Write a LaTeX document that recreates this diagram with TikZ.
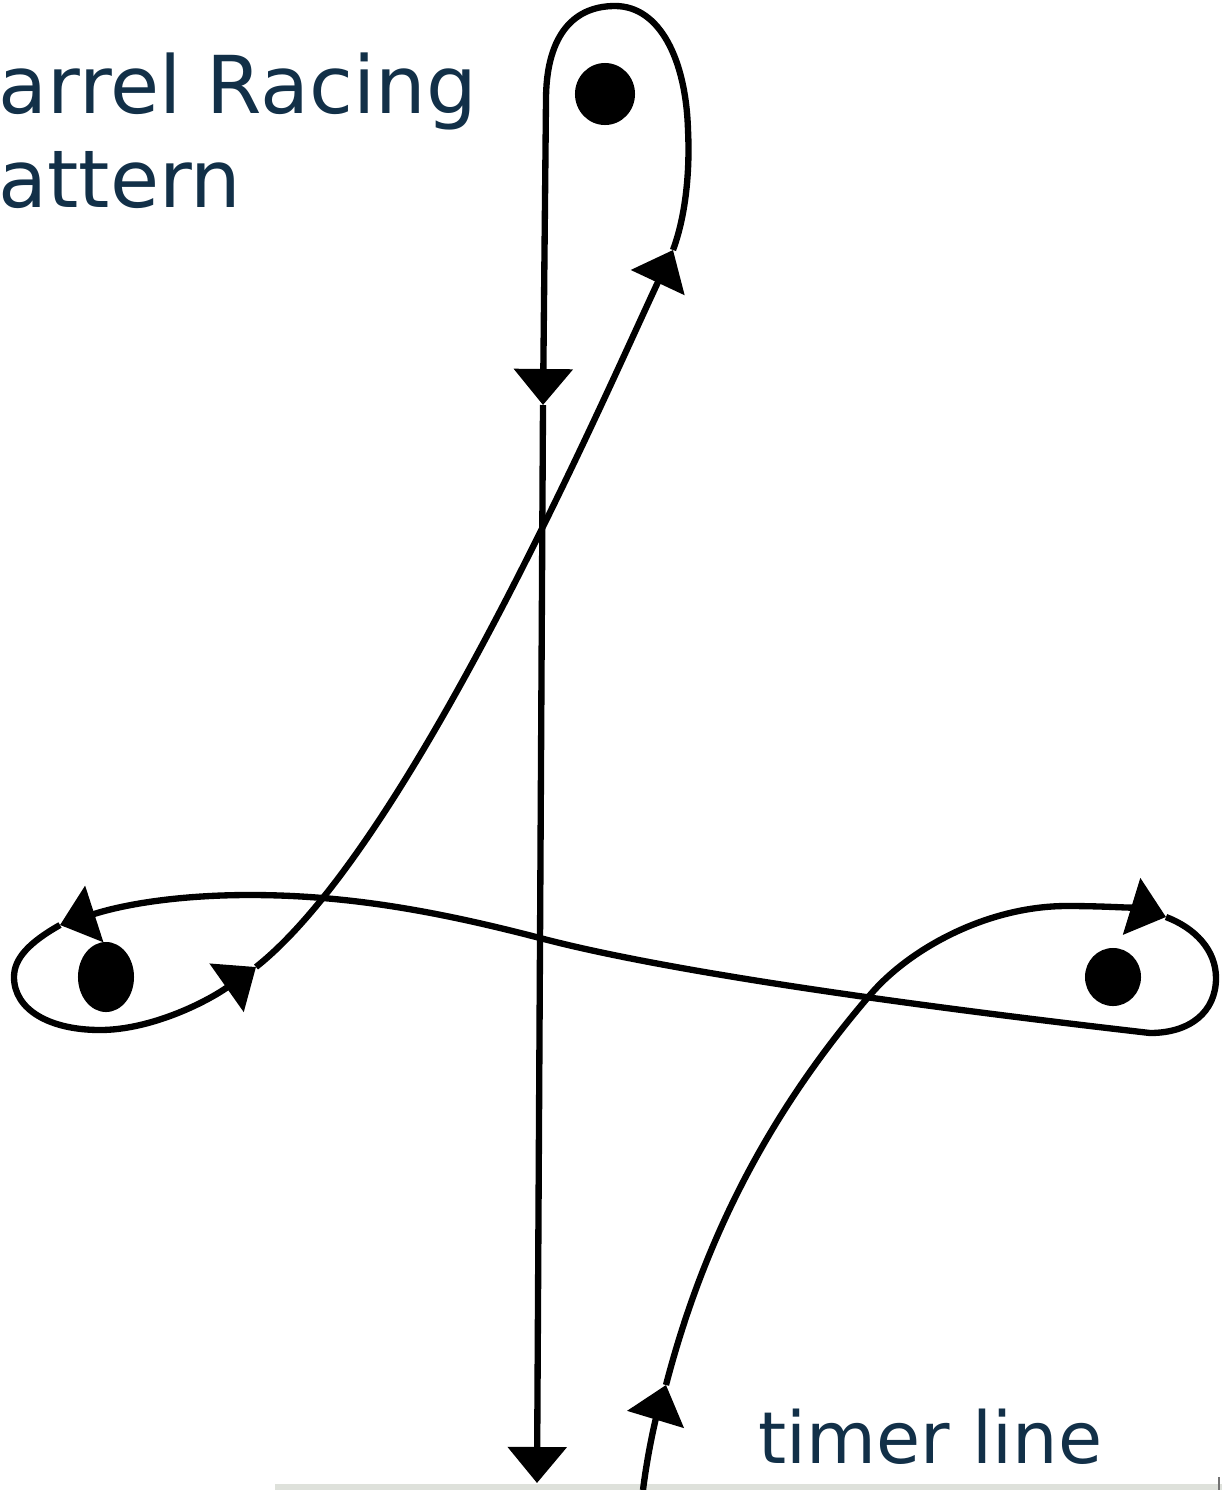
\documentclass[tikz,border=0pt]{standalone}
\usepackage{fontspec}
\newfontfamily\labelfont{DejaVu Sans}
\usetikzlibrary{arrows.meta}
\definecolor{textblue}{RGB}{18,48,72}
\definecolor{timergray}{RGB}{222,225,219}

\begin{document}
\begin{tikzpicture}[x=0.01cm, y=-0.01cm,
    runline/.style={line width=1.8pt, line join=round},
    runarrow/.style={-{Triangle[length=3.6mm, width=5.8mm]}},
    lbl/.style={anchor=base west, inner sep=0pt, text=textblue}]
  \useasboundingbox (0,0) rectangle (1222,1490);
  % title
  \node[lbl, font=\labelfont\fontsize{22.7}{27}\selectfont](ttl1)at(-2,113){arrel Racing};
  \node[lbl, font=\labelfont\fontsize{22.7}{27}\selectfont](ttl2)at(-2,207){attern};
  % timer line
  \path[draw, timergray, line width=2pt](275,1487)to(1222,1487);
  \path[draw, black!55, line width=0.8pt](1219,1477)to(1219,1490);
  \node[lbl, font=\labelfont\fontsize{20.4}{24}\selectfont](tmr)at(758,1463){timer line};
  % barrels
  \path[fill](605,94) ellipse [x radius=0.30cm, y radius=0.31cm];
  \path[fill](106,977) ellipse [x radius=0.28cm, y radius=0.35cm];
  \path[fill](1113,977) ellipse [x radius=0.28cm, y radius=0.29cm];
  % points of the run
  \coordinate(strt)at(643,1490);
  \coordinate(arr1)at(666,1385);
  \coordinate(cr1)at(870,995);
  \coordinate(arr2)at(1166,917);
  \coordinate(cr2)at(540,938);
  \coordinate(arr3)at(60,925);
  \coordinate(arr4)at(256,967);
  \coordinate(arr5)at(673,250);
  \coordinate(arr6)at(543,405);
  \coordinate(fin)at(537,1483);
  % start to barrel 1
  \draw[runline, runarrow](strt) .. controls (648,1450) and (656,1418) .. (arr1);
  \draw[runline, runarrow](arr1) .. controls (705,1235) and (772,1109) .. (cr1)
    .. controls (909,949) and (987,906) .. (1067,906)
    .. controls (1112,906) and (1140,909) .. (arr2);
  % barrel 1 to barrel 2
  \draw[runline, runarrow](arr2) .. controls (1195,928) and (1216,950) .. (1216,978)
    .. controls (1216,1012) and (1190,1033) .. (1150,1033)
    .. controls (950,1010) and (680,975) .. (cr2)
    .. controls (440,912) and (350,895) .. (250,895)
    .. controls (180,895) and (125,904) .. (arr3);
  % barrel 2 to barrel 3
  \draw[runline, runarrow](arr3) .. controls (30,942) and (14,958) .. (14,977)
    .. controls (14,1010) and (50,1030) .. (100,1030)
    .. controls (150,1030) and (205,1003) .. (arr4);
  \draw[runline, runarrow](arr4) .. controls (410,845) and (605,395) .. (arr5);
  % barrel 3 and home
  \draw[runline, runarrow](arr5) .. controls (686,215) and (690,170) .. (688,130)
    .. controls (686,60) and (660,6) .. (615,6)
    .. controls (570,6) and (546,40) .. (546,100) -- (arr6);
  \draw[runline, runarrow](arr6)--(fin);
\end{tikzpicture}
\end{document}
